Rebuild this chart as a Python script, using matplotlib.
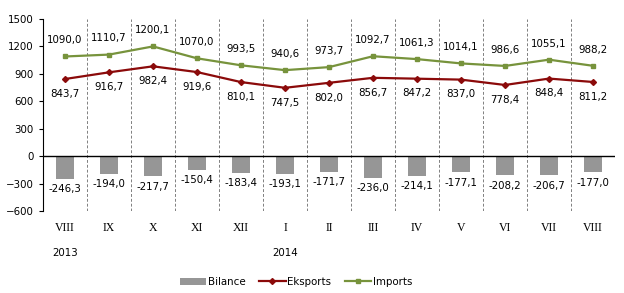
import matplotlib.pyplot as plt
import numpy as np

months = ['VIII', 'IX', 'X', 'XI', 'XII', 'I', 'II', 'III', 'IV', 'V', 'VI', 'VII', 'VIII']
bilance = [-246.3, -194.0, -217.7, -150.4, -183.4, -193.1, -171.7, -236.0, -214.1, -177.1, -208.2, -206.7, -177.0]
eksports = [843.7, 916.7, 982.4, 919.6, 810.1, 747.5, 802.0, 856.7, 847.2, 837.0, 778.4, 848.4, 811.2]
imports = [1090.0, 1110.7, 1200.1, 1070.0, 993.5, 940.6, 973.7, 1092.7, 1061.3, 1014.1, 986.6, 1055.1, 988.2]
years = ['2013', '2014']
year_pos = [0, 5]

c_bar = '#969696'
c_exp = '#8B0A0A'
c_imp = '#77933C'

def fmt(v):
    return f'{v:.1f}'.replace('.', ',')

fig = plt.figure(figsize=(6.24, 2.93), dpi=100)
ax = fig.add_axes([43/624, 1-211/293, (615-43)/624, (211-19)/293])

x = np.arange(len(months))
hb = ax.bar(x, bilance, width=0.41, color=c_bar, label='Bilance', zorder=2)
he, = ax.plot(x, eksports, color=c_exp, lw=1.6, marker='D', ms=3, label='Eksports', zorder=3)
hi, = ax.plot(x, imports, color=c_imp, lw=1.6, marker='s', ms=3.5, label='Imports', zorder=3)

fs = 7.4
for i in range(len(x)):
    ax.annotate(fmt(imports[i]), (x[i], imports[i]), xytext=(0, 8), textcoords='offset points',
                ha='center', va='bottom', fontsize=fs)
    ax.annotate(fmt(eksports[i]), (x[i], eksports[i]), xytext=(0, -7), textcoords='offset points',
                ha='center', va='top', fontsize=fs)
    ax.annotate(fmt(bilance[i]), (x[i], bilance[i]), xytext=(0, -4), textcoords='offset points',
                ha='center', va='top', fontsize=fs)

for b in np.arange(0.5, len(x), 1):
    ax.axvline(b, color='#808080', lw=0.7, ls=(0, (3, 2)), zorder=1)
ax.axhline(0, color='black', lw=1, zorder=2)

ax.set_xlim(-0.5, len(x) - 0.5)
ax.set_ylim(-600, 1500)
ax.set_yticks(range(-600, 1501, 300))
ax.tick_params(axis='y', labelsize=fs, length=3, direction='out')
ax.set_xticks(x)
ax.set_xticklabels(months, fontsize=8.5, family='Liberation Serif')
ax.tick_params(axis='x', length=0, pad=8)
for s in ['top', 'right', 'bottom']:
    ax.spines[s].set_visible(False)

for yp, yr in zip(year_pos, years):
    ax.text(yp, -1060, yr, ha='center', va='center', fontsize=fs)

fig.legend([hb, he, hi], ['Bilance', 'Eksports', 'Imports'], loc='center',
           bbox_to_anchor=(296/624, 1-282/293), ncol=3, frameon=False,
           fontsize=fs, handlelength=2.6, columnspacing=1.3, handletextpad=0.15)

fig.savefig('out.png', dpi=100)
